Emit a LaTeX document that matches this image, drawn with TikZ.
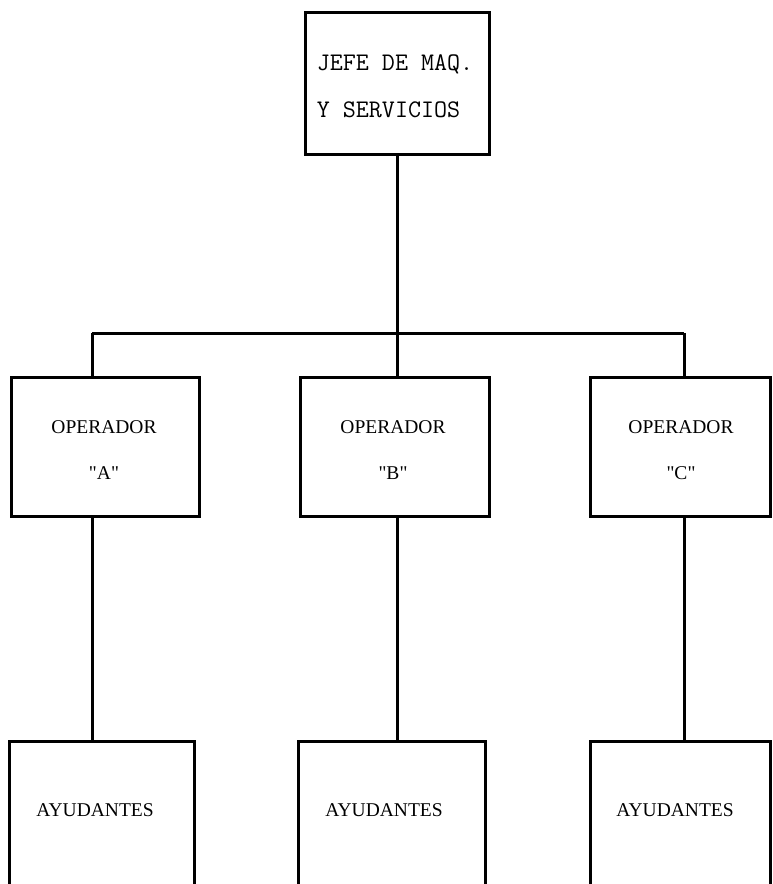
\documentclass[tikz,border=0pt]{standalone}
\usepackage{fontspec}
\newfontfamily\lblfont{Liberation Serif}
\begin{document}
\begin{tikzpicture}[x=1pt,y=-1pt,
  box/.style={draw, line width=3pt, rectangle, inner sep=0pt},
  conn/.style={line width=3pt},
  lbl/.style={font=\lblfont\fontsize{19.5}{46}\selectfont, align=center, inner sep=0pt},
  toplbl/.style={font=\ttfamily\fontsize{25.3}{47}\selectfont, align=left, inner sep=0pt}]
\useasboundingbox (0,0) rectangle (772,884);
\clip (0,0) rectangle (772,884);
% boxes
\node[box, minimum width=184pt, minimum height=142pt] (top) at (397,83) {};
\node[box, minimum width=188pt, minimum height=139pt] (opA) at (105,446.5) {};
\node[box, minimum width=189pt, minimum height=139pt] (opB) at (394.5,446.5) {};
\node[box, minimum width=180pt, minimum height=139pt] (opC) at (680,446.5) {};
\node[box, minimum width=185pt, minimum height=159pt] (ayA) at (101.5,820.5) {};
\node[box, minimum width=187pt, minimum height=159pt] (ayB) at (391.5,820.5) {};
\node[box, minimum width=180pt, minimum height=159pt] (ayC) at (680,820.5) {};
% labels
\node[toplbl] (topt) at (395,86.5) {JEFE DE MAQ.\\Y SERVICIOS};
\node[lbl] (opAt) at (104,450) {OPERADOR\\"A"};
\node[lbl] (opBt) at (393,450) {OPERADOR\\"B"};
\node[lbl] (opCt) at (681,450) {OPERADOR\\"C"};
\node[lbl] (ayAt) at (95,810) {AYUDANTES};
\node[lbl] (ayBt) at (384,810) {AYUDANTES};
\node[lbl] (ayCt) at (675,810) {AYUDANTES};
% connectors
\coordinate (busA) at (92,333);
\coordinate (busB) at (397,333);
\coordinate (busC) at (684,333);
\draw[conn] (top.south -| busB) -- (busB);
\draw[conn] (busA) -- (busC);
\draw[conn] (busA) -- (busA |- opA.north);
\draw[conn] (busB) -- (busB |- opB.north);
\draw[conn] (busC) -- (busC |- opC.north);
\draw[conn] (busA |- opA.south) -- (busA |- ayA.north);
\draw[conn] (busB |- opB.south) -- (busB |- ayB.north);
\draw[conn] (busC |- opC.south) -- (busC |- ayC.north);
\end{tikzpicture}
\end{document}
